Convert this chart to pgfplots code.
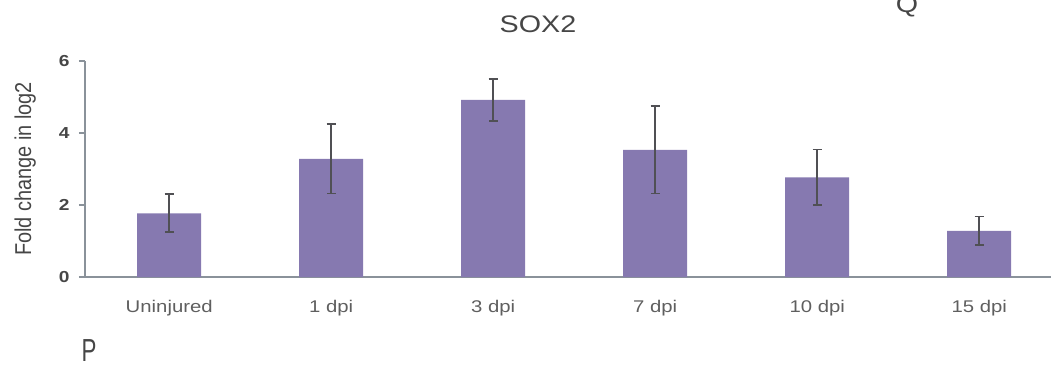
\documentclass[border=0pt]{standalone}
\usepackage{pgfplots}
\pgfplotsset{compat=1.18}
\usepackage{fontspec}
\setmainfont{Liberation Sans}

\definecolor{barpurple}{RGB}{134,121,176}
\definecolor{axisgray}{RGB}{138,146,154}
\definecolor{errgray}{RGB}{80,80,84}
\definecolor{labelgray}{RGB}{95,95,95}
\definecolor{titlegray}{RGB}{70,70,70}

% slightly widened sans lettering
\newcommand{\wide}[1]{\scalebox{1.2}[1]{#1}}

% SOX2 expression (log2 fold change) with standard deviation
\pgfplotstableread{
x y err
0 1.77 0.53
1 3.28 0.96
2 4.92 0.58
3 3.53 1.21
4 2.77 0.77
5 1.28 0.40
}\soxdata

\begin{document}
\begin{tikzpicture}
\path[use as bounding box] (-85bp,-90bp) rectangle (966bp,277bp);

\begin{axis}[
  at={(0,0)}, anchor=south west,
  scale only axis,
  width=966bp, height=216bp,
  xmin=-0.52, xmax=5.443,
  ymin=0, ymax=6,
  axis x line*=bottom, axis y line*=left,
  axis line style={axisgray, line width=1.8bp, -},
  ytick={0,2,4,6},
  xtick={0,...,5},
  xticklabels={\wide{Uninjured},\wide{1 dpi},\wide{3 dpi},\wide{7 dpi},\wide{10 dpi},\wide{15 dpi}},
  tick align=outside,
  major tick length=6bp,
  ytick style={axisgray, line width=1.5bp},
  xtick style={draw=none},
  /pgf/number format/assume math mode=true,
  yticklabel={\wide{\pgfmathprintnumber{\tick}}},
  yticklabel style={font=\fontsize{16}{18}\selectfont\bfseries, text=titlegray, xshift=-6bp},
  xticklabel style={font=\fontsize{17}{20}\selectfont, text=labelgray, yshift=-14bp},
  ylabel={\scalebox{1}[1.15]{Fold change in log2}},
  ylabel style={at={(axis description cs:-0.062,0.5)}, anchor=center,
                font=\fontsize{20}{22}\selectfont, text=titlegray},
  ybar, bar width=64bp,
  clip=false,
]
\addplot[fill=barpurple, draw=none,
  error bars/.cd, y dir=both, y explicit,
  error bar style={errgray, line width=1.8bp},
  error mark options={errgray, line width=1.8bp, mark size=4.5bp, rotate=90}]
  table[x=x, y=y, y error=err]{\soxdata};
\end{axis}

\node[font=\fontsize{24}{28}\selectfont, text=titlegray] at (453bp,253bp) {\wide{SOX2}};
\node[font=\fontsize{24}{28}\selectfont, text=titlegray, anchor=base] at (822bp,264bp) {\wide{Q}};
\node[font=\fontsize{32}{36}\selectfont, text=titlegray] at (4bp,-74bp) {\scalebox{0.7}[1]{P}};
\end{tikzpicture}
\end{document}
